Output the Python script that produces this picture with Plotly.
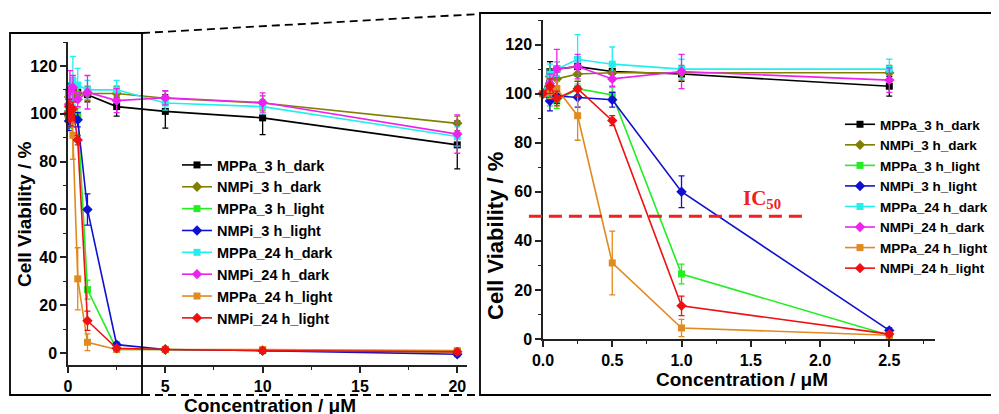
import plotly.graph_objects as go

W, H = 999, 414
OFF = 8  # page body margin of the html page

conc = [0, 0.05, 0.1, 0.25, 0.5, 1, 2.5, 5, 10, 20]

series_names = ["MPPa_3 h_dark", "NMPi_3 h_dark", "MPPa_3 h_light", "NMPi_3 h_light",
                "MPPa_24 h_dark", "NMPi_24 h_dark", "MPPa_24 h_light", "NMPi_24 h_light"]

mppa_3h_dark = [100, 109, 110, 111, 109, 108, 103, 101, 98.3, 87]
mppa_3h_dark_err = [0, 4, 3, 4, 3, 3, 4, 7, 7, 10]

nmpi_3h_dark = [100, 107, 106, 108, 108.5, 108.5, 108.5, 106.5, 104.5, 96]
nmpi_3h_dark_err = [0, 3, 3, 3, 3, 3, 3, 3, 3, 3]

mppa_3h_light = [100, 98, 97, 102, 99.5, 26.5, 1.5, 1.5, 1, 0.5]
mppa_3h_light_err = [0, 3, 3, 3, 3, 4, 1, 1, 1, 1]

nmpi_3h_light = [100, 97, 99, 98.5, 97.5, 60, 3.5, 1.5, 1, -0.5]
nmpi_3h_light_err = [0, 4, 3, 4, 3, 6.5, 1, 1, 1, 1]

mppa_24h_dark = [100, 108, 110, 114, 112, 110, 110, 104.5, 103, 90.5]
mppa_24h_dark_err = [0, 4, 3, 10, 7, 4, 4, 3, 3, 4]

nmpi_24h_dark = [100, 104, 110, 111, 106, 109, 105.5, 106.7, 104.7, 91.5]
nmpi_24h_dark_err = [0, 4, 8, 5, 3, 7, 5, 3, 4, 8]

mppa_24h_light = [100, 101, 102, 91, 31, 4.5, 1.5, 1.5, 1.5, 1]
mppa_24h_light_err = [0, 3, 3, 10, 13, 3.5, 1, 1, 1, 1]

nmpi_24h_light = [100, 103, 98, 102, 89, 13.5, 2, 1.5, 1, 0.5]
nmpi_24h_light_err = [0, 3, 3, 3, 2, 4, 1, 1, 1, 1]

values = [mppa_3h_dark, nmpi_3h_dark, mppa_3h_light, nmpi_3h_light,
          mppa_24h_dark, nmpi_24h_dark, mppa_24h_light, nmpi_24h_light]
errors = [mppa_3h_dark_err, nmpi_3h_dark_err, mppa_3h_light_err, nmpi_3h_light_err,
          mppa_24h_dark_err, nmpi_24h_dark_err, mppa_24h_light_err, nmpi_24h_light_err]
colors = ["#000000", "#808000", "#22ee22", "#1010d0", "#22eeee", "#ee22ee", "#e08a20", "#ee1111"]
symbols = ["square", "diamond", "square", "diamond", "square", "diamond", "square", "diamond"]

n_zoom = 7  # points up to 2.5 uM shown in the zoomed panel

fig = go.Figure()
for i, name in enumerate(series_names):
    for panel in (1, 2):
        xs = conc if panel == 1 else conc[:n_zoom]
        ys = values[i] if panel == 1 else values[i][:n_zoom]
        es = errors[i] if panel == 1 else errors[i][:n_zoom]
        fig.add_trace(go.Scatter(
            x=xs, y=ys, name=name, mode="lines+markers",
            xaxis="x" if panel == 1 else "x2",
            yaxis="y" if panel == 1 else "y2",
            legend="legend" if panel == 1 else "legend2",
            line=dict(color=colors[i], width=1.6),
            marker=dict(symbol=symbols[i], size=7 if symbols[i] == "square" else 8, color=colors[i]),
            error_y=dict(type="data", array=es, color=colors[i], thickness=1.3, width=3),
            cliponaxis=False,
        ))

def px_x(p):
    return (p - OFF) / W

def px_y(p):
    return 1 - (p - OFF) / H

tickfont = dict(family="Liberation Sans, Arial", size=16, weight="bold", color="black")
axis_common = dict(showline=True, linecolor="#222", linewidth=1.5, ticks="outside", ticklen=6,
                   tickwidth=1.5, tickcolor="#222", showgrid=False, zeroline=False,
                   tickfont=tickfont)

fig.update_layout(
    width=W, height=H,
    margin=dict(l=0, r=0, t=0, b=0, autoexpand=False),
    paper_bgcolor="white", plot_bgcolor="white",
    xaxis=dict(domain=[px_x(68), px_x(467)], range=[0, 20.5], dtick=5, anchor="y",
               minor=dict(ticks="outside", ticklen=3.5, tickwidth=1.2, tickcolor="#222", dtick=2.5),
               **axis_common),
    yaxis=dict(domain=[px_y(365), px_y(42)], range=[-5, 130], tickvals=[0, 20, 40, 60, 80, 100, 120],
               anchor="x",
               minor=dict(ticks="outside", ticklen=3.5, tickwidth=1.2, tickcolor="#222",
                          tickvals=[10, 30, 50, 70, 90, 110, 130]),
               **axis_common),
    xaxis2=dict(domain=[px_x(543), px_x(935)], range=[0, 2.83], dtick=0.5, tickformat=".1f", anchor="y2",
                minor=dict(ticks="outside", ticklen=3.5, tickwidth=1.2, tickcolor="#222", dtick=0.25),
                **axis_common),
    yaxis2=dict(domain=[px_y(339), px_y(20)], range=[0, 130], dtick=20, anchor="x2",
                minor=dict(ticks="outside", ticklen=3.5, tickwidth=1.2, tickcolor="#222", dtick=10),
                **axis_common),
    legend=dict(x=px_x(177), y=px_y(149), xanchor="left", yanchor="top",
                bgcolor="rgba(0,0,0,0)", borderwidth=0,
                font=dict(family="Liberation Sans, Arial", size=14.5, weight="bold", color="black")),
    legend2=dict(x=px_x(840), y=px_y(109), xanchor="left", yanchor="top",
                 bgcolor="rgba(0,0,0,0)", borderwidth=0,
                 font=dict(family="Liberation Sans, Arial", size=13.5, weight="bold", color="black")),
    showlegend=True,
)

# frames and zoom connectors
shapes = [
    dict(type="rect", xref="paper", yref="paper", x0=px_x(10), x1=px_x(142), y0=px_y(395), y1=px_y(33),
         line=dict(color="black", width=1.8)),
    dict(type="rect", xref="paper", yref="paper", x0=px_x(480), x1=1.05, y0=px_y(395), y1=px_y(13),
         line=dict(color="black", width=1.8)),
    dict(type="line", xref="paper", yref="paper", x0=px_x(142), x1=px_x(480), y0=px_y(33), y1=px_y(14),
         line=dict(color="black", width=1.8, dash="8px,5px")),
    dict(type="line", xref="paper", yref="paper", x0=px_x(142), x1=px_x(480), y0=px_y(395), y1=px_y(395),
         line=dict(color="black", width=1.8, dash="8px,5px")),
    dict(type="line", xref="x2 domain", yref="y2", x0=-0.036, x1=0.676, y0=50, y1=50,
         line=dict(color="#ee2020", width=3, dash="13px,7px")),
]
fig.update_layout(shapes=shapes)

title_font = dict(family="Liberation Sans, Arial", size=19, weight="bold", color="black")
annotations = [
    dict(text="Cell Viability / %", xref="paper", yref="paper", x=px_x(24), y=px_y(215),
         textangle=-90, showarrow=False, font=title_font, xanchor="center", yanchor="middle"),
    dict(text="Concentration / \u03bcM", xref="paper", yref="paper", x=px_x(270), y=px_y(405),
         showarrow=False, font=title_font, xanchor="center", yanchor="middle"),
    dict(text="Cell Viability / %", xref="paper", yref="paper", x=px_x(495), y=px_y(236),
         textangle=-90, showarrow=False, font=dict(title_font, size=22), xanchor="center", yanchor="middle"),
    dict(text="Concentration / \u03bcM", xref="paper", yref="paper", x=px_x(742), y=px_y(379),
         showarrow=False, font=title_font, xanchor="center", yanchor="middle"),
    dict(text="IC<sub>50</sub>", xref="x2", yref="y2", x=1.58, y=57, showarrow=False,
         font=dict(family="Liberation Serif, Times New Roman", size=21, weight="bold", color="#ee2020"),
         xanchor="center", yanchor="middle"),
]
fig.update_layout(annotations=annotations)

fig.write_html("out.html")
